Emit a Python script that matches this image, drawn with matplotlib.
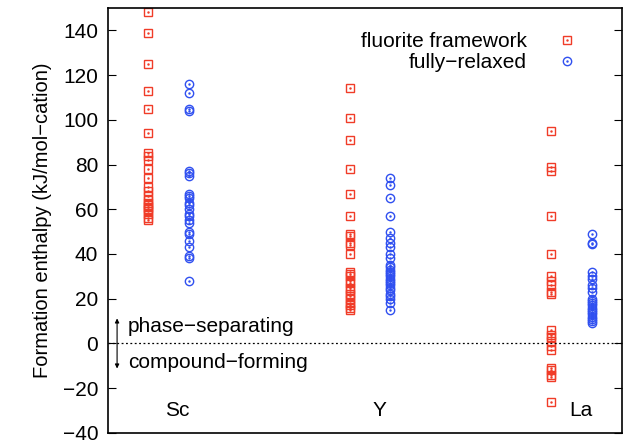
import numpy as np
import matplotlib.pyplot as plt

plt.rcParams['font.family'] = ['Liberation Sans', 'DejaVu Sans']

# cations and their x positions
cations = ["Sc", "Y", "La"]
xpos = [1, 2, 3]

# formation enthalpies (kJ/mol-cation)
sc_fluorite = [148, 139, 125, 113, 105, 94, 85, 84, 82, 78, 74, 70, 68, 66,
               64, 63, 62, 61, 60, 59, 58, 56, 55]
sc_relaxed = [116, 112, 105, 104, 77, 76, 75, 67, 66, 65, 63, 62, 60, 58,
              57, 55, 54, 50, 49, 46, 43, 39, 38, 28]
y_fluorite = [114, 101, 91, 78, 67, 57, 49, 48, 45, 44, 40, 32, 31, 30, 28,
              27, 25, 24, 22, 21, 20, 18, 17, 16, 15]
y_relaxed = [74, 71, 65, 57, 50, 47, 45, 43, 40, 38, 35, 34, 33, 32, 31, 30,
             29, 28, 27, 26, 25, 24, 22, 21, 20, 18, 15]
la_fluorite = [95, 79, 77, 57, 40, 30, 28, 26, 23, 22, 6, 4, 3, 1, -1, -3,
               -11, -12, -14, -15, -26]
la_relaxed = [49, 45, 44.5, 32, 30, 29, 26, 25, 23, 20, 19, 18, 17, 16, 15,
              14, 13, 12, 11, 10, 9]

fluorite = [sc_fluorite, y_fluorite, la_fluorite]
relaxed = [sc_relaxed, y_relaxed, la_relaxed]

red = '#f03c28'
blue = '#3050f0'
offset = 0.2
fs = 15

fig = plt.figure(figsize=(6.28, 4.40), dpi=100)
ax = fig.add_axes([0.172, 0.016, 0.818, 0.966])

for i in range(3):
    f = np.array(fluorite[i])
    r = np.array(relaxed[i])
    ax.plot(np.full(len(f), xpos[i]), f, ls='none', marker='s', ms=6,
            mfc='none', mec=red, mew=1.0)
    ax.plot(np.full(len(f), xpos[i]), f, ls='none', marker='.', ms=1.5, color=red)
    ax.plot(np.full(len(r), xpos[i] + offset), r, ls='none', marker='o', ms=6,
            mfc='none', mec=blue, mew=1.0)
    ax.plot(np.full(len(r), xpos[i] + offset), r, ls='none', marker='.', ms=1.5, color=blue)
    ax.text(xpos[i] + 0.145, -30, cations[i], fontsize=fs, ha='center', va='center')

# zero line
ax.axhline(0, color='black', ls=(0, (1.5, 2)), lw=0.9)

# double arrow + labels
ax.annotate('', xy=(0.845, 11.2), xytext=(0.845, -11.2),
            arrowprops=dict(arrowstyle='<|-|>', lw=0.8, color='black',
                            mutation_scale=6, shrinkA=0, shrinkB=0))
ax.text(0.899, 7.5, 'phase\u2212separating', fontsize=fs, va='center')
ax.text(0.899, -8.3, 'compound\u2212forming', fontsize=fs, va='center')

# legend (gnuplot style)
ax.text(2.878, 135, 'fluorite framework', fontsize=fs, ha='right', va='center')
ax.text(2.878, 125.5, 'fully\u2212relaxed', fontsize=fs, ha='right', va='center')
ax.plot([3.077], [135.5], ls='none', marker='s', ms=6, mfc='none', mec=red, mew=1.0)
ax.plot([3.077], [135.5], ls='none', marker='.', ms=1.5, color=red)
ax.plot([3.077], [126.2], ls='none', marker='o', ms=6, mfc='none', mec=blue, mew=1.0)
ax.plot([3.077], [126.2], ls='none', marker='.', ms=1.5, color=blue)

ax.set_xlim(0.8, 3.35)
ax.set_ylim(-40, 150)
ax.set_yticks(np.arange(-40, 141, 20))
ax.set_xticks([])
for s in ax.spines.values():
    s.set_linewidth(1.2)
ax.tick_params(axis='y', direction='in', right=True, labelsize=fs, length=6, pad=7)
ax.set_ylabel('Formation enthalpy (kJ/mol\u2212cation)', fontsize=14.5, labelpad=8)

plt.savefig('out.png', dpi=100)
